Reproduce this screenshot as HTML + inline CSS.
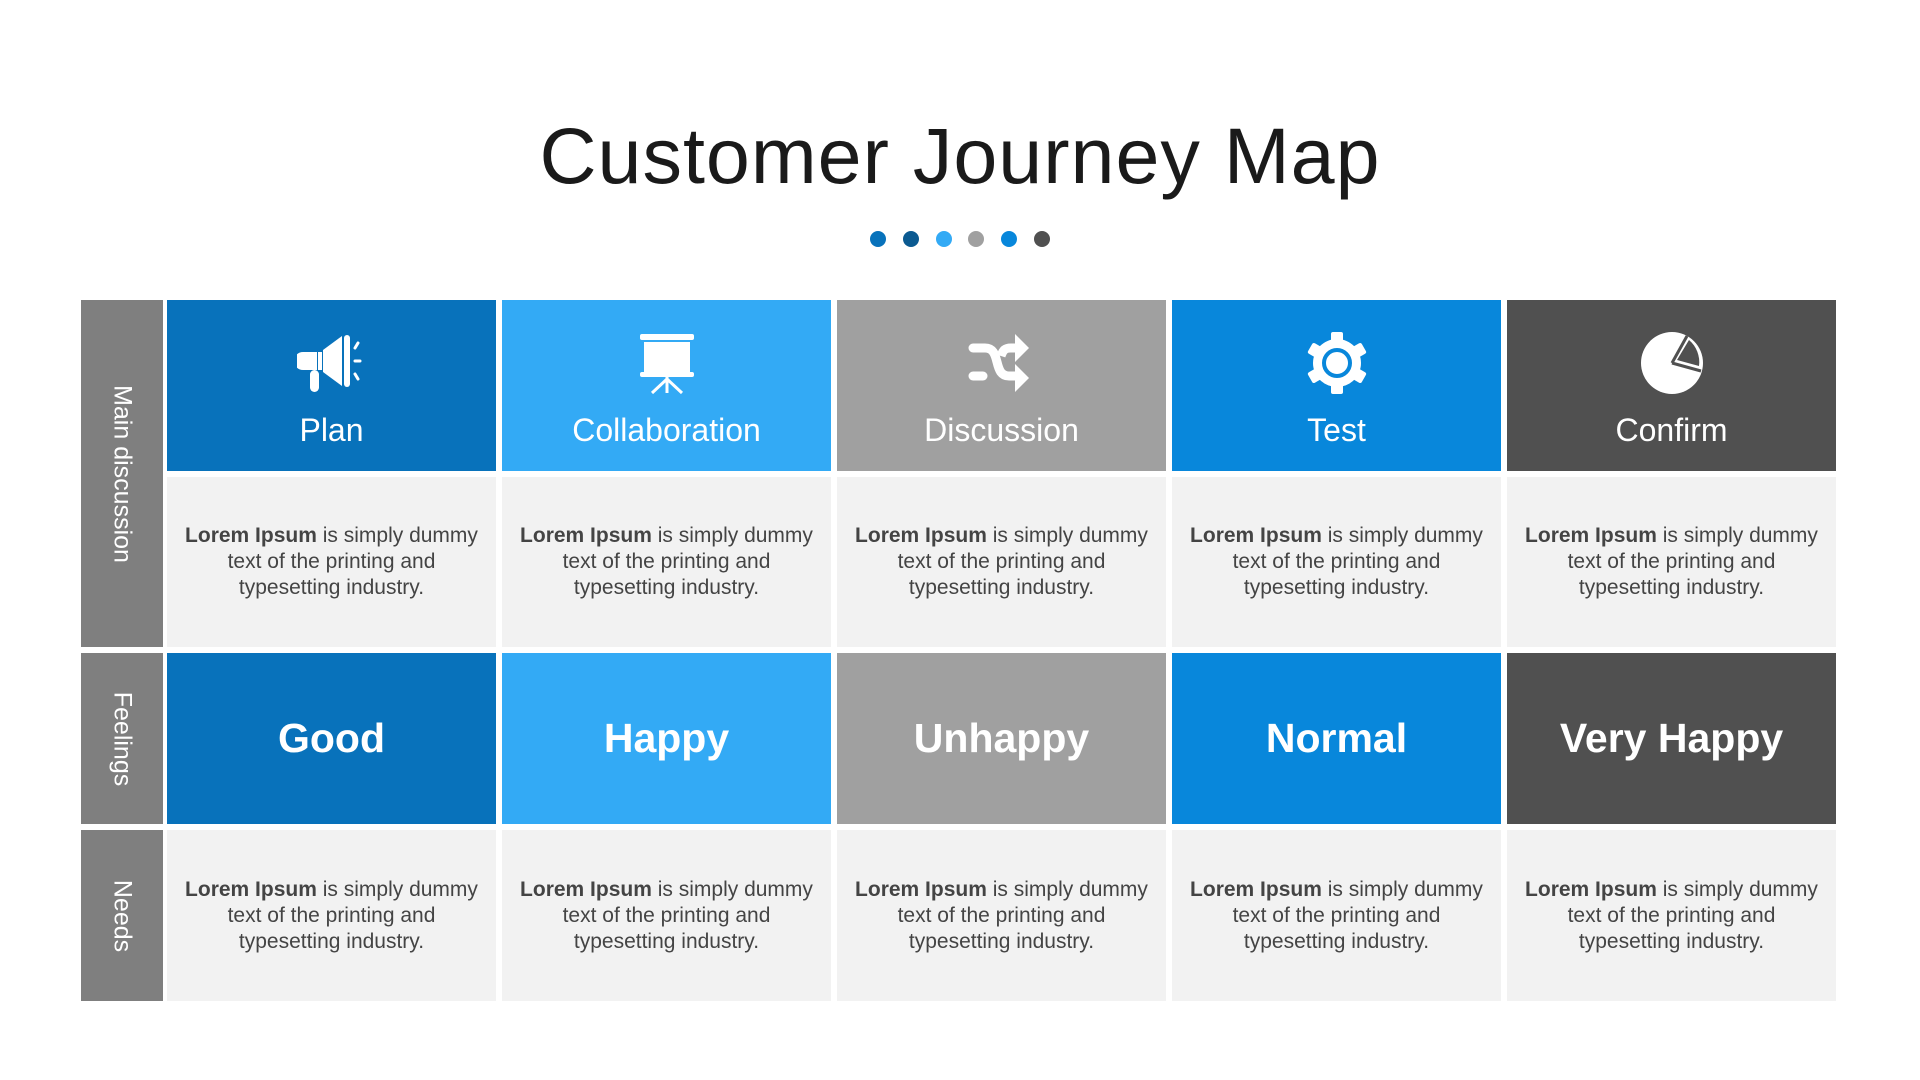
<!DOCTYPE html>
<html><head><meta charset="utf-8"><style>
*{margin:0;padding:0;box-sizing:border-box}
body{width:1920px;height:1080px;background:#fff;position:relative;overflow:hidden;font-family:"Liberation Sans",sans-serif}
.t{position:absolute;left:0;width:1920px;top:110px;text-align:center;font-size:79px;color:#1a1a1a;letter-spacing:1px}
.dot{position:absolute;top:231px;width:16px;height:16px;border-radius:50%}
.c{position:absolute;width:329px}
.lab{position:absolute;left:81px;width:82px;background:#7f7f7f}
.lab span{position:absolute;left:50%;top:50%;transform:translate(-50%,-50%) rotate(90deg);color:#fff;font-size:25px;white-space:nowrap}
.h{top:300px;height:171px;color:#fff}
.h .nm{position:absolute;left:0;right:0;text-align:center;font-size:32px}
.h svg{position:absolute;left:50%;top:30px;transform:translateX(-50%)}
.b{background:#f2f2f2;color:#444;font-size:21px;line-height:26px;text-align:center;display:flex;align-items:center;justify-content:center}
.f{top:653px;height:171px;color:#fff;font-weight:bold;font-size:41px;display:flex;align-items:center;justify-content:center}
</style></head><body>
<div class="t">Customer Journey Map</div>
<div class="dot" style="left:870px;background:#0872bb"></div>
<div class="dot" style="left:903px;background:#0b5a91"></div>
<div class="dot" style="left:936px;background:#33aaf5"></div>
<div class="dot" style="left:968px;background:#a0a0a0"></div>
<div class="dot" style="left:1001px;background:#0887db"></div>
<div class="dot" style="left:1034px;background:#505050"></div>

<div class="lab" style="top:300px;height:347px"><span>Main discussion</span></div>
<div class="lab" style="top:653px;height:171px"><span>Feelings</span></div>
<div class="lab" style="top:830px;height:171px"><span>Needs</span></div>

<div class="c h" style="left:167px;background:#0872bb">
<svg width="70" height="66" viewBox="0 0 70 66"><path d="M6 22h14v18H6a9 9 0 0 1 0-18z" fill="#fff"/><rect x="21" y="22" width="4" height="18" fill="#fff"/><path d="M26 20L45 6v50L26 42z" fill="#fff"/><rect x="47" y="5" width="6" height="52" rx="3" fill="#fff"/><rect x="13" y="40" width="9" height="22" rx="4.5" fill="#fff"/><path d="M58 18l3-5M58 31h5M58 44l3 5" stroke="#fff" stroke-width="3" stroke-linecap="round"/></svg>
<div class="nm" style="top:112px">Plan</div></div>
<div class="c h" style="left:502px;background:#33aaf5">
<svg width="70" height="66" viewBox="0 0 70 66"><rect x="8" y="4" width="54" height="6" rx="2" fill="#fff"/><rect x="12" y="12" width="46" height="30" fill="#fff"/><rect x="8" y="42" width="54" height="5" rx="2" fill="#fff"/><path d="M35 47v16M35 49L20 63M35 49l15 14" stroke="#fff" stroke-width="3"/></svg>
<div class="nm" style="top:112px">Collaboration</div></div>
<div class="c h" style="left:837px;background:#a0a0a0">
<svg width="70" height="66" viewBox="0 0 70 66"><path d="M6 18h12c8 0 10 6 12 14s4 14 12 14h6" stroke="#fff" stroke-width="9" fill="none" stroke-linecap="round"/><path d="M6 46h10" stroke="#fff" stroke-width="9" stroke-linecap="round"/><path d="M34 26c2-6 4-8 10-8h6" stroke="#fff" stroke-width="9" fill="none"/><path d="M48 4l14 14-14 14z M48 34l14 14-14 14z" fill="#fff"/></svg>
<div class="nm" style="top:112px">Discussion</div></div>
<div class="c h" style="left:1172px;background:#0887db">
<svg width="70" height="66" viewBox="0 0 70 66"><g fill="#fff"><circle cx="35" cy="33" r="24"/><g id="tt"><rect x="29" y="2" width="12" height="12" rx="2"/><rect x="29" y="52" width="12" height="12" rx="2"/></g><use href="#tt" transform="rotate(60 35 33)"/><use href="#tt" transform="rotate(120 35 33)"/></g><circle cx="35" cy="33" r="13" fill="none" stroke="#0887db" stroke-width="4"/></svg>
<div class="nm" style="top:112px">Test</div></div>
<div class="c h" style="left:1507px;background:#505050">
<svg width="70" height="66" viewBox="0 0 70 66"><circle cx="35" cy="33" r="31" fill="#fff"/><path d="M35 33L50 6M35 33l29 8" stroke="#505050" stroke-width="3" fill="none"/><path d="M40 30L52 10a29 29 0 0 1 10 26z" fill="#505050"/></svg>
<div class="nm" style="top:112px">Confirm</div></div>

<div class="c b" style="left:167px;top:477px;height:170px"><div><b>Lorem Ipsum</b> is simply dummy<br>text of the printing and<br>typesetting industry.</div></div>
<div class="c b" style="left:502px;top:477px;height:170px"><div><b>Lorem Ipsum</b> is simply dummy<br>text of the printing and<br>typesetting industry.</div></div>
<div class="c b" style="left:837px;top:477px;height:170px"><div><b>Lorem Ipsum</b> is simply dummy<br>text of the printing and<br>typesetting industry.</div></div>
<div class="c b" style="left:1172px;top:477px;height:170px"><div><b>Lorem Ipsum</b> is simply dummy<br>text of the printing and<br>typesetting industry.</div></div>
<div class="c b" style="left:1507px;top:477px;height:170px"><div><b>Lorem Ipsum</b> is simply dummy<br>text of the printing and<br>typesetting industry.</div></div>

<div class="c f" style="left:167px;background:#0872bb">Good</div>
<div class="c f" style="left:502px;background:#33aaf5">Happy</div>
<div class="c f" style="left:837px;background:#a0a0a0">Unhappy</div>
<div class="c f" style="left:1172px;background:#0887db">Normal</div>
<div class="c f" style="left:1507px;background:#505050">Very Happy</div>

<div class="c b" style="left:167px;top:830px;height:171px"><div><b>Lorem Ipsum</b> is simply dummy<br>text of the printing and<br>typesetting industry.</div></div>
<div class="c b" style="left:502px;top:830px;height:171px"><div><b>Lorem Ipsum</b> is simply dummy<br>text of the printing and<br>typesetting industry.</div></div>
<div class="c b" style="left:837px;top:830px;height:171px"><div><b>Lorem Ipsum</b> is simply dummy<br>text of the printing and<br>typesetting industry.</div></div>
<div class="c b" style="left:1172px;top:830px;height:171px"><div><b>Lorem Ipsum</b> is simply dummy<br>text of the printing and<br>typesetting industry.</div></div>
<div class="c b" style="left:1507px;top:830px;height:171px"><div><b>Lorem Ipsum</b> is simply dummy<br>text of the printing and<br>typesetting industry.</div></div>
</body></html>
